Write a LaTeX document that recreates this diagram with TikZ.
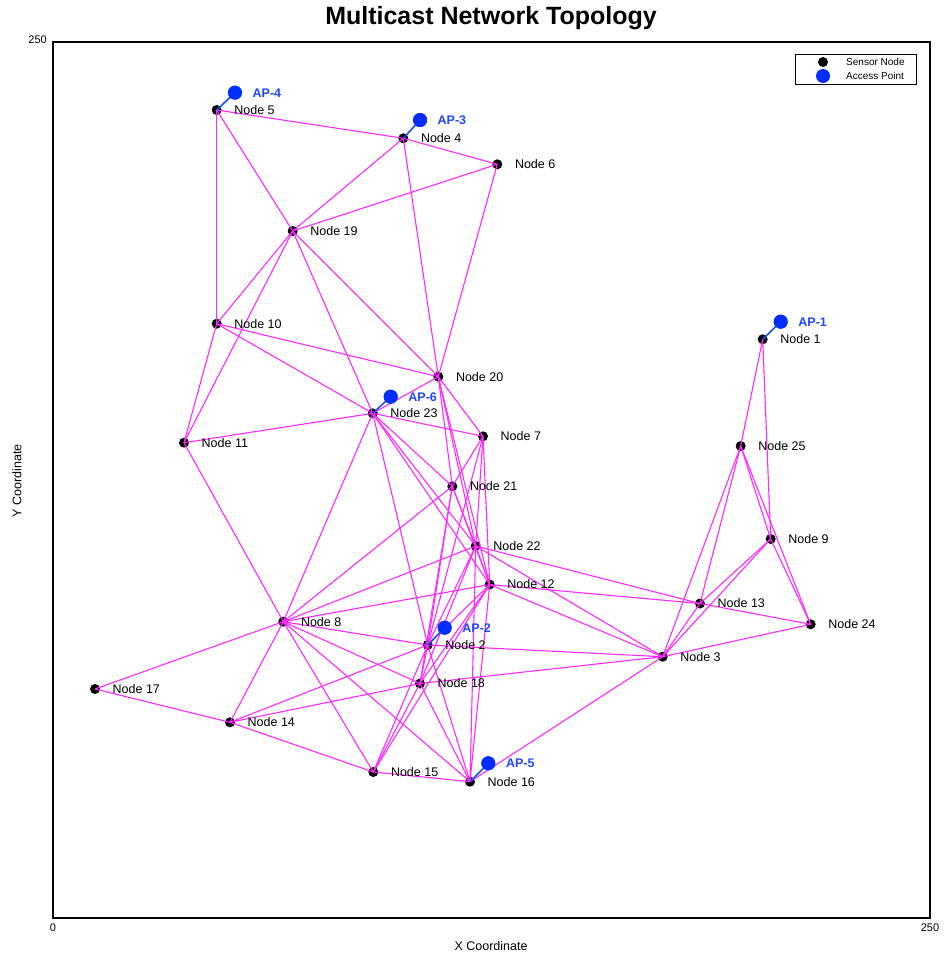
\documentclass[tikz,border=0pt]{standalone}
\usepackage{fontspec}
\setmainfont{Liberation Sans}
\definecolor{edgemag}{RGB}{255,40,255}
\definecolor{apblue}{RGB}{0,45,255}
\definecolor{linkblue}{RGB}{25,80,235}
\definecolor{aptext}{RGB}{30,70,255}
\begin{document}
\begin{tikzpicture}[x=1pt,y=-1pt,
  sensor/.style={circle,fill=black,inner sep=0pt,minimum size=10pt},
  apdot/.style={circle,fill=apblue,inner sep=0pt,minimum size=14pt},
  link/.style={draw=edgemag,line width=1.1pt},
  aplink/.style={draw=linkblue,line width=1.6pt},
  nlabel/.style={anchor=west,inner sep=0pt,font=\fontsize{12.5}{14}\selectfont},
  aplabel/.style={anchor=west,inner sep=0pt,text=aptext,font=\fontsize{12.5}{14}\selectfont\bfseries},
  ticklabel/.style={inner sep=0pt,font=\fontsize{11}{13}\selectfont},
  axislabel/.style={inner sep=0pt,font=\fontsize{12.5}{14}\selectfont},
  legendtext/.style={anchor=west,inner sep=0pt,font=\fontsize{10}{12}\selectfont},
]
\useasboundingbox (0,0) rectangle (946,958);

% title, axes frame and tick labels
\node[inner sep=0pt,font=\fontsize{25}{28}\selectfont\bfseries] (title) at (491,18) {Multicast Network Topology};
\draw[line width=1.3pt] (53,42) rectangle (930,918);
\node[ticklabel,anchor=east] (ymax) at (47,40) {250};
\node[ticklabel,anchor=north] (xmin) at (53,924) {0};
\node[ticklabel,anchor=north] (xmax) at (930,924) {250};
\node[axislabel] (xlab) at (491,946) {X Coordinate};
\node[axislabel,rotate=90] (ylab) at (17,481) {Y Coordinate};

% sensor nodes
\foreach \i/\x/\y in {
  1/762.7/339.3, 2/427.7/645, 3/662.7/656.7, 4/403.3/138.3, 5/216.7/110,
  6/497.3/164.3, 7/483/436.3, 8/283.3/621.7, 9/770.7/539, 10/216.7/323.7,
  11/184/442.7, 12/489.7/584.5, 13/700/603.5, 14/230/722.3, 15/373.3/772,
  16/470/781.7, 17/95/689, 18/420/683.5, 19/292.7/231, 20/438.3/376.7,
  21/452.3/486.3, 22/475.7/546, 23/372.7/413.3, 24/810.7/624.3, 25/740.7/446}
  \node[sensor] (n\i) at (\x,\y) {};

% links between sensor nodes
\foreach \a/\b in {
  5/4, 5/10, 5/19, 4/6, 4/19, 4/20, 6/19, 6/20,
  19/10, 19/11, 19/20, 19/23, 10/11, 10/20, 10/23, 11/23, 11/8,
  20/23, 20/7, 20/21, 20/22, 20/12,
  23/7, 23/21, 23/22, 23/12, 23/2, 23/8,
  7/21, 7/22, 7/12, 7/2,
  21/22, 21/12, 21/8, 21/2, 21/18,
  22/12, 22/8, 22/2, 22/18, 22/16, 22/3, 22/13,
  12/8, 12/2, 12/18, 12/16, 12/15, 12/3, 12/13,
  8/17, 8/14, 8/15, 8/16, 8/18, 8/2,
  2/18, 2/15, 2/16, 2/14, 2/3,
  18/14, 18/15, 18/16, 18/3, 14/17, 14/15, 15/16, 16/3,
  3/13, 3/9, 3/24, 3/25, 13/9, 13/24, 13/25,
  9/24, 9/25, 9/1, 25/1, 25/24}
  \draw[link] (n\a.center) -- (n\b.center);

% access points and their uplinks
\foreach \k/\x/\y/\n in {1/780.7/321.7/1, 2/444.7/627.7/2, 3/420/120/4,
                         4/235/92.7/5, 5/488.3/763.3/16, 6/390.7/396.7/23} {
  \node[apdot] (ap\k) at (\x,\y) {};
  \draw[aplink] (ap\k.center) -- (n\n.center);
  \fill[apblue] (ap\k) circle (7pt);
  \node[aplabel] (apl\k) at (\x+17.5,\y) {AP-\k};
}

% sensor labels
\foreach \i/\x/\y in {
  1/762.7/339.3, 2/427.7/645, 3/662.7/656.7, 4/403.3/138.3, 5/216.7/110,
  6/497.3/164.3, 7/483/436.3, 8/283.3/621.7, 9/770.7/539, 10/216.7/323.7,
  11/184/442.7, 12/489.7/584.5, 13/700/603.5, 14/230/722.3, 15/373.3/772,
  16/470/781.7, 17/95/689, 18/420/683.5, 19/292.7/231, 20/438.3/376.7,
  21/452.3/486.3, 22/475.7/546, 23/372.7/413.3, 24/810.7/624.3, 25/740.7/446}
  \node[nlabel] (t\i) at (\x+17.5,\y) {Node \i};

% legend
\node[draw,line width=0.8pt,minimum width=121pt,minimum height=30pt,inner sep=0pt] (legend) at (856,69.5) {};
\node[sensor] (legs) at (823,62) {};
\node[apdot] (lega) at (823,76) {};
\node[legendtext] (legst) at (846,62) {Sensor Node};
\node[legendtext] (legat) at (846,76) {Access Point};
\end{tikzpicture}
\end{document}
